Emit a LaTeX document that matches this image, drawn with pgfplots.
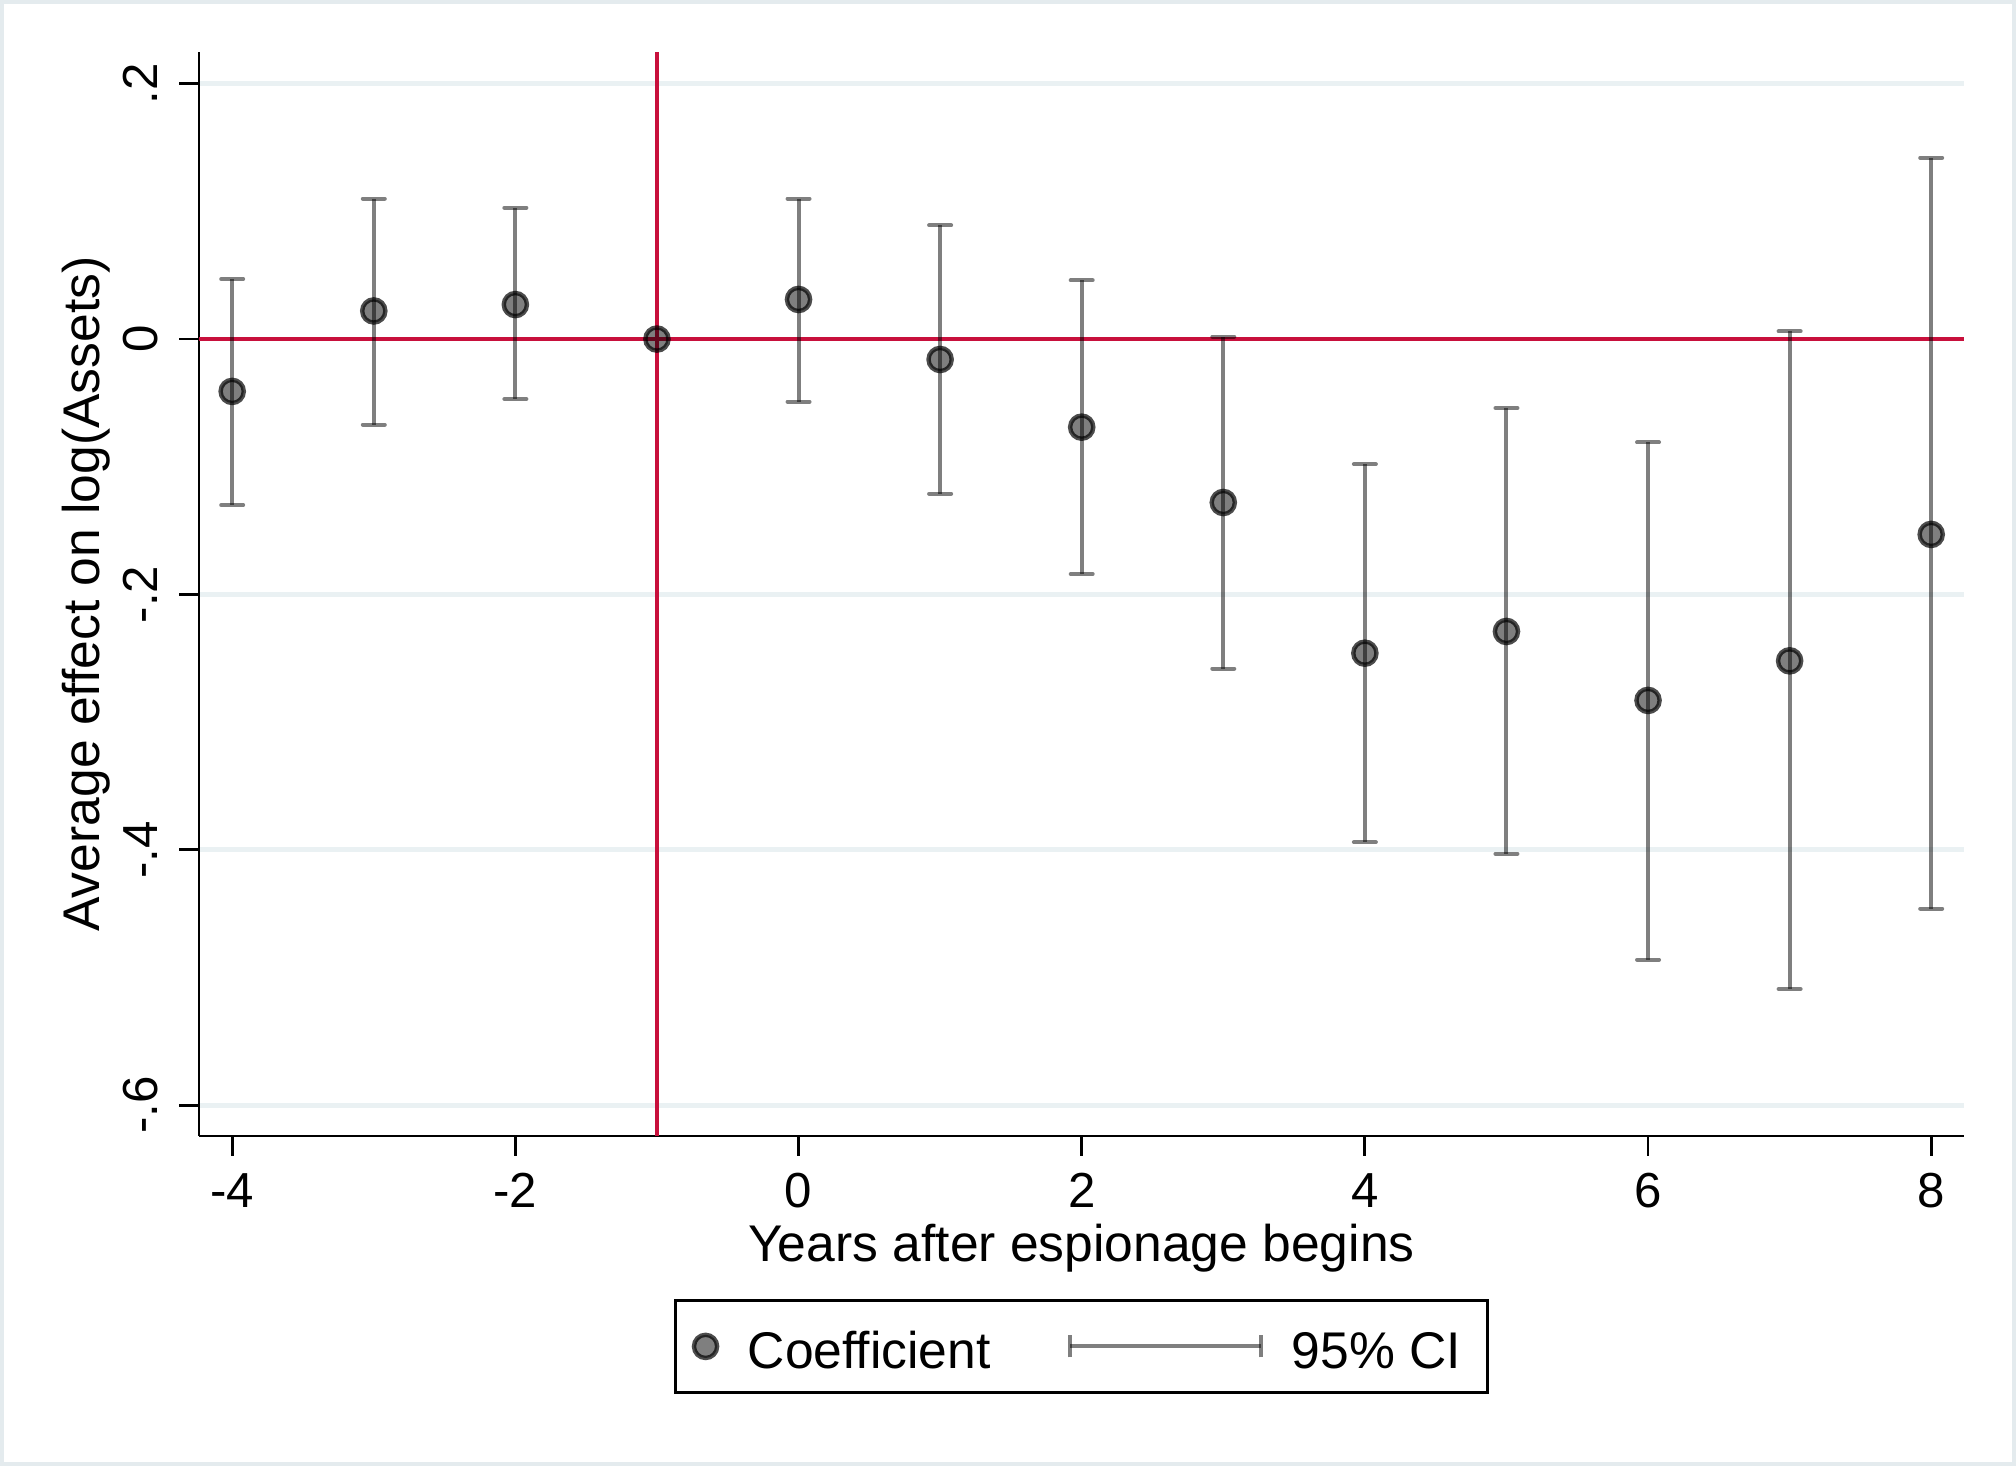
\documentclass[border=0pt]{standalone}
\usepackage{fontspec}
\setmainfont{Liberation Sans}
\usepackage{pgfplots}
\usepackage{pgfplotstable}
\pgfplotsset{compat=1.18}
\definecolor{refred}{RGB}{200,16,60}
\definecolor{gridc}{RGB}{234,241,243}
\definecolor{framec}{RGB}{228,235,238}

\pgfplotstableread{
x c
-4 -0.041
-3 0.022
-2 0.027
-1 0.000
0 0.031
1 -0.016
2 -0.069
3 -0.128
4 -0.246
5 -0.229
6 -0.283
7 -0.252
8 -0.153
}\coef

\pgfplotstableread{
x c lo hi
-4 -0.041 -0.130 0.047
-3 0.022 -0.067 0.110
-2 0.027 -0.047 0.103
0 0.031 -0.049 0.110
1 -0.016 -0.121 0.089
2 -0.069 -0.184 0.046
3 -0.128 -0.258 0.002
4 -0.246 -0.394 -0.098
5 -0.229 -0.403 -0.054
6 -0.283 -0.486 -0.081
7 -0.252 -0.509 0.006
8 -0.153 -0.446 0.142
}\ci

\begin{document}
\begin{tikzpicture}
\path[use as bounding box] (0,0) rectangle (504pt,366.5pt);
\fill[white] (0,0) rectangle (504pt,366.5pt);
\draw[framec, line width=1pt] (0.5pt,0.5pt) rectangle (503.5pt,366pt);
\begin{axis}[
  at={(49.75pt,82.5pt)}, anchor=south west,
  scale only axis, width=441.25pt, height=271pt,
  xmin=-4.2345, xmax=8.2317, ymin=-0.6241, ymax=0.2248,
  axis lines*=left,
  axis line style={black, line width=0.7pt},
  xtick={-4,-2,0,2,4,6,8}, xticklabels={-4,-2,0,2,4,6,8},
  ytick={-0.6,-0.4,-0.2,0,0.2}, yticklabels={-.6,-.4,-.2,0,.2},
  tick align=outside, major tick length=5pt,
  tick style={black, line width=0.7pt},
  ymajorgrids, grid style={gridc, line width=1.2pt},
  tick label style={font=\fontsize{12.3}{14}\selectfont, inner sep=0pt},
  xticklabel style={anchor=base, yshift=-12.9pt},
  yticklabel style={xshift=-5.4pt, rotate=90, anchor=base},
  xlabel={Years after espionage begins},
  ylabel={Average effect on log(Assets)},
  every axis x label/.style={at={(rel axis cs:0.5,0)}, anchor=base, yshift=-31.5pt, inner sep=0pt, font=\fontsize{12.9}{15}\selectfont},
  every axis y label/.style={at={(rel axis cs:0,0.5)}, xshift=-34.3pt, rotate=90, anchor=north, inner sep=0pt, font=\fontsize{12.9}{15}\selectfont},
  legend columns=2,
  reverse legend,
  legend style={at={(rel axis cs:0.5,0)}, anchor=north, yshift=-40.8pt,
    draw=black, line width=0.75pt, font=\fontsize{12.9}{15}\selectfont,
    inner xsep=4.05pt, inner ysep=5.55pt,
    nodes={inner sep=0pt, text height=11.4pt, text depth=0.36pt},
    /tikz/every odd column/.style={column sep=7.1pt},
    /tikz/every even column/.style={column sep=19.4pt}},
]
\addplot[refred, line width=1pt, forget plot] coordinates {(-1,-0.6241) (-1,0.2248)};
\addplot[refred, line width=1pt, forget plot] coordinates {(-4.2345,0) (8.2317,0)};
\addplot[mark=none, draw=none,
  legend image code/.code={
    \draw[black, opacity=0.5, line width=1pt] (0pt,0pt) -- (47.75pt,0pt);
    \draw[black, opacity=0.5, line width=1pt] (0pt,-2.75pt) -- (0pt,2.75pt);
    \draw[black, opacity=0.5, line width=1pt] (47.75pt,-2.75pt) -- (47.75pt,2.75pt);},
  error bars/.cd, y dir=both, y explicit,
  error bar style={draw=black, line width=1pt, opacity=0.5},
  error mark options={rotate=90, draw=black, line width=1pt, opacity=0.5, mark size=2.75pt, line cap=round}]
  table[x=x, y=c, y error plus expr=\thisrow{hi}-\thisrow{c}, y error minus expr=\thisrow{c}-\thisrow{lo}] {\ci};
\addlegendentry{95\% CI\rule{2.6pt}{0pt}}
\addplot[only marks, mark=*, mark size=2.9pt, fill opacity=0.5, draw opacity=0.7,
  mark options={fill=black, draw=black, fill opacity=0.5, draw opacity=0.7, line width=1.1pt},
  legend image code/.code={
    \draw[fill=black, fill opacity=0.5, draw=black, draw opacity=0.7, line width=1.1pt] (2.9pt,0pt) circle (2.9pt);}]
  table[x=x, y=c] {\coef};
\addlegendentry{Coefficient}
\end{axis}
\end{tikzpicture}
\end{document}
